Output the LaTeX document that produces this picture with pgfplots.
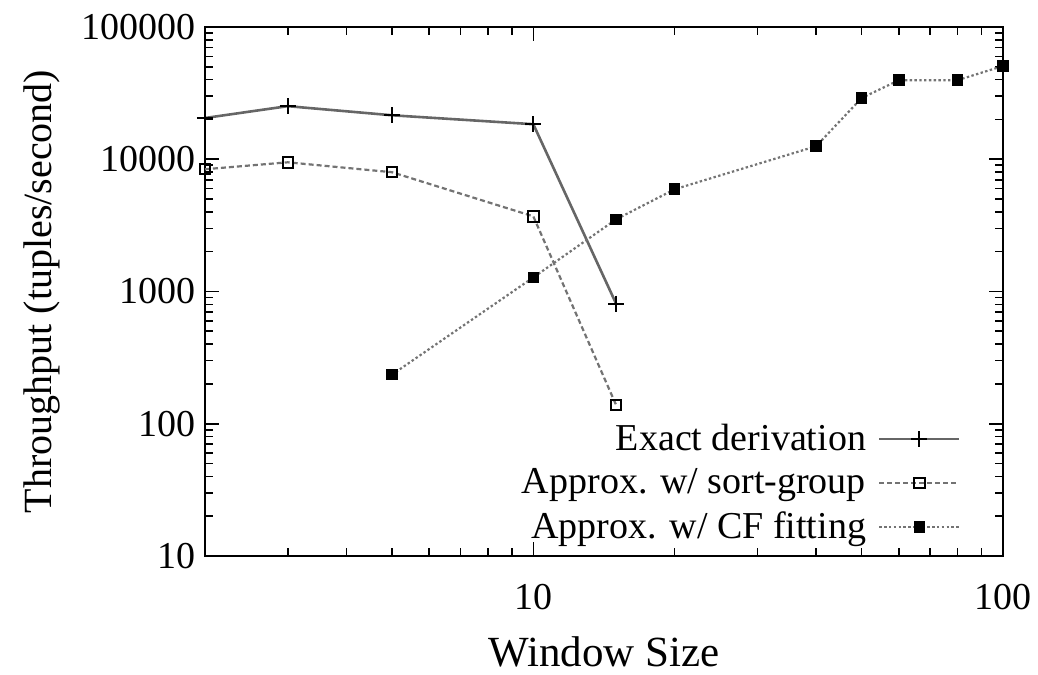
\documentclass[border=0pt]{standalone}
\usepackage{pgfplots}
\pgfplotsset{compat=1.18}
\usepackage{fontspec}
\setmainfont{Liberation Serif}

\pgfplotstableread{
x y
2 20500
3 25200
5 21500
10 18400
15 811
}\exact

\pgfplotstableread{
x y
2 8400
3 9480
5 7980
10 3700
15 139
}\sortgroup

\pgfplotstableread{
x y
5 235
10 1277
15 3510
20 5930
40 12540
50 29000
60 39600
80 39600
100 50700
}\cffit

\begin{document}
\begin{tikzpicture}
\begin{axis}[
  name=ax,
  scale only axis,
  width=399pt, height=264.5pt,
  xmode=log, ymode=log,
  xmin=2, xmax=100, ymin=10, ymax=100000,
  xtick={10,100}, xticklabels={10,100},
  minor xtick={2,3,4,5,6,7,8,9,20,30,40,50,60,70,80,90},
  ytick={10,100,1000,10000,100000},
  yticklabels={10,100,1000,10000,100000},
  minor ytick={20,30,40,50,60,70,80,90,200,300,400,500,600,700,800,900,2000,3000,4000,5000,6000,7000,8000,9000,20000,30000,40000,50000,60000,70000,80000,90000},
  tick align=inside,
  major tick length=7pt, minor tick length=4pt,
  every tick/.style={black, line width=0.8pt},
  axis line style={line width=1pt},
  ticklabel style={font=\fontsize{19}{22}\selectfont},
  xticklabel style={yshift=-10.5pt},
  yticklabel style={xshift=-1pt},
  xlabel={Window Size},
  ylabel={Throughput (tuples/second)},
  xlabel style={font=\fontsize{21.5}{25}\selectfont, yshift=-6.5pt},
  ylabel style={font=\fontsize{20}{24}\selectfont, yshift=4pt},
  legend style={draw=none, fill=none, at={(1,0)}, anchor=south east,
    xshift=-18pt, yshift=3pt,
    font=\fontsize{19}{22}\selectfont, row sep=3.5pt,
    /tikz/every odd column/.append style={column sep=4pt}},
  legend cell align=right,
  legend plot pos=right,
  legend image code/.code={
    \draw[mark repeat=2, mark phase=2, #1] plot coordinates {(0pt,0pt) (20pt,0pt) (40pt,0pt)};},
]
\addplot[black!60, line width=1.3pt, mark=+, mark size=4pt,
  mark options={black, solid, line width=1pt}] table {\exact};
\addlegendentry{Exact derivation}
\addplot[black!55, line width=1.1pt, dash pattern=on 2.5pt off 1.5pt,
  mark=square, mark size=2.6pt,
  mark options={black, solid, line width=1pt}] table {\sortgroup};
\addlegendentry{Approx. w/ sort-group}
\addplot[black!55, line width=1.1pt, dash pattern=on 1.2pt off 1.2pt,
  mark=square*, mark size=2.6pt,
  mark options={black, solid, line width=0.6pt}] table {\cffit};
\addlegendentry{Approx. w/ CF fitting}
\end{axis}
\pgfresetboundingbox
\path ([xshift=-102.5pt,yshift=-59.5pt]ax.south west) rectangle ([xshift=17.5pt,yshift=13.5pt]ax.north east);
\end{tikzpicture}
\end{document}
